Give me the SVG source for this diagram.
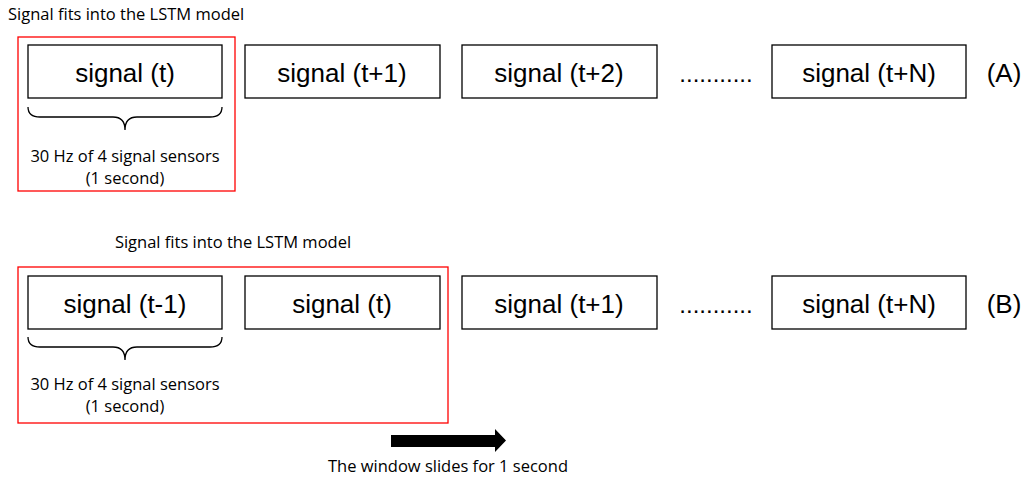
<svg xmlns="http://www.w3.org/2000/svg" width="1030" height="479" viewBox="0 0 1030 479">
<style>
.box{fill:#fff;stroke:#000;stroke-width:1.3}
.win{fill:none;stroke:#ff0000;stroke-width:1.3}
.lbl{font-family:"Liberation Sans",Arial,sans-serif;font-size:26px;fill:#000;text-anchor:middle}
.sm{font-family:"Open Sans","Liberation Sans",sans-serif;font-size:16.5px;fill:#000}
.brace{fill:none;stroke:#000;stroke-width:1.3}
</style>
<rect width="1030" height="479" fill="#fff"/>
<!-- Row A -->
<text class="sm" x="8" y="20">Signal fits into the LSTM model</text>
<rect class="win" x="18" y="37" width="217" height="154"/>
<g id="a1"><rect class="box" x="28" y="45" width="194" height="53"/><text class="lbl" x="125" y="82">signal (t)</text></g>
<g id="a2"><rect class="box" x="245" y="45" width="195" height="53"/><text class="lbl" x="342" y="82">signal (t+1)</text></g>
<g id="a3"><rect class="box" x="462" y="45" width="195" height="53"/><text class="lbl" x="559" y="82">signal (t+2)</text></g>
<text class="lbl" x="716" y="82" style="font-size:24px">...........</text>
<g id="aN"><rect class="box" x="772" y="45" width="194" height="53"/><text class="lbl" x="869" y="82">signal (t+N)</text></g>
<text class="lbl" x="1004" y="82">(A)</text>
<path class="brace" d="M28,107 Q28,117 40,117 L113,117 Q125,117 125,130 Q125,117 137,117 L210,117 Q222,117 222,107"/>
<text class="sm" x="125" y="162" text-anchor="middle">30 Hz of 4 signal sensors</text>
<text class="sm" x="125" y="184" text-anchor="middle">(1 second)</text>
<!-- Row B -->
<text class="sm" x="233" y="248" text-anchor="middle">Signal fits into the LSTM model</text>
<rect class="win" x="18" y="267" width="430" height="156"/>
<g id="b1"><rect class="box" x="28" y="276" width="194" height="53"/><text class="lbl" x="125" y="313">signal (t-1)</text></g>
<g id="b2"><rect class="box" x="245" y="276" width="195" height="53"/><text class="lbl" x="342" y="313">signal (t)</text></g>
<g id="b3"><rect class="box" x="462" y="276" width="195" height="53"/><text class="lbl" x="559" y="313">signal (t+1)</text></g>
<text class="lbl" x="716" y="313" style="font-size:24px">...........</text>
<g id="bN"><rect class="box" x="772" y="276" width="194" height="53"/><text class="lbl" x="869" y="313">signal (t+N)</text></g>
<text class="lbl" x="1004" y="313">(B)</text>
<path class="brace" d="M28,337 Q28,347 40,347 L113,347 Q125,347 125,360 Q125,347 137,347 L210,347 Q222,347 222,337"/>
<text class="sm" x="125" y="390" text-anchor="middle">30 Hz of 4 signal sensors</text>
<text class="sm" x="125" y="412" text-anchor="middle">(1 second)</text>
<g id="connectors">
<polygon points="391,435 495,435 495,429 506,440.5 495,452 495,447 391,447" fill="#000"/>
</g>
<text class="sm" x="448" y="472" text-anchor="middle">The window slides for 1 second</text>
</svg>
